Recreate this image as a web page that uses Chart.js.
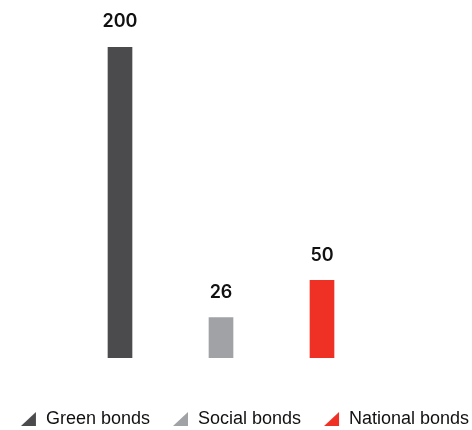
<!DOCTYPE html>
<html>
<head>
<meta charset="utf-8">
<script src="https://cdn.jsdelivr.net/npm/chart.js@4/dist/chart.umd.min.js"></script>
<style>
  html, body { margin: 0; padding: 0; background: #ffffff; overflow: hidden; }
  #wrap { width: 472px; height: 430px; }
</style>
</head>
<body>
<div id="wrap"><canvas id="c" width="472" height="430"></canvas></div>
<script>
// ---- data ----
const categories = ['Green bonds', 'Social bonds', 'National bonds'];
const seriesNames = ['Green bonds', 'Social bonds', 'National bonds'];
const values = [200, 26, 50];
const yMin = 0;
const yMax = 200;
const seriesColors = ['#4b4b4d', '#a1a2a6', '#ee3124'];

// triangle legend markers (right triangle, right angle at bottom-right)
function makeTriangle(color) {
  const cv = document.createElement('canvas');
  cv.width = 26; cv.height = 14;
  const g = cv.getContext('2d');
  g.fillStyle = color;
  g.beginPath();
  g.moveTo(10, 14);
  g.lineTo(25, 14);
  g.lineTo(25, 0);
  g.closePath();
  g.fill();
  return cv;
}
const triangles = seriesColors.map(makeTriangle);

const datasets = seriesNames.map((name, i) => ({
  label: name,
  data: categories.map((c, j) => (j === i ? values[i] : null)),
  backgroundColor: seriesColors[i],
  borderWidth: 0,
  barThickness: 24,
  grouped: false,
  pointStyle: triangles[i]
}));

const valueLabels = {
  id: 'valueLabels',
  afterDatasetsDraw(chart) {
    const ctx = chart.ctx;
    ctx.save();
    ctx.font = '600 18px Inter, "DejaVu Sans", sans-serif';
    ctx.fillStyle = '#111111';
    ctx.textAlign = 'center';
    ctx.textBaseline = 'middle';
    chart.data.datasets.forEach((ds, di) => {
      const meta = chart.getDatasetMeta(di);
      meta.data.forEach((el, k) => {
        const v = ds.data[k];
        if (v === null || v === undefined) return;
        ctx.fillText(String(v), el.x, el.y - 25);
      });
    });
    ctx.restore();
  }
};

new Chart(document.getElementById('c'), {
  type: 'bar',
  data: { labels: categories, datasets },
  options: {
    responsive: false,
    animation: false,
    layout: { padding: { top: 47, left: -4, right: -12, bottom: -8 } },
    scales: {
      x: {
        display: true,
        grid: { display: false },
        border: { display: false },
        ticks: { display: false },
        afterFit(s) { s.height = 39; }
      },
      y: {
        display: true,
        position: 'left',
        min: yMin,
        max: yMax,
        grid: { display: false },
        border: { display: false },
        ticks: { display: false },
        afterFit(s) { s.width = 73.5; }
      },
      y2: {
        display: true,
        position: 'right',
        grid: { display: false },
        border: { display: false },
        ticks: { display: false },
        afterFit(s) { s.width = 111.5; }
      }
    },
    plugins: {
      tooltip: { enabled: false },
      legend: {
        position: 'bottom',
        align: 'center',
        labels: {
          usePointStyle: true,
          pointStyleWidth: 26,
          boxHeight: 14,
          padding: 13,
          color: '#111111',
          font: { family: '"Liberation Sans", Arial, sans-serif', size: 18 },
          generateLabels(chart) {
            return Chart.defaults.plugins.legend.labels.generateLabels(chart)
              .map((l, i) => Object.assign(l, { pointStyle: triangles[i] }));
          }
        }
      }
    }
  },
  plugins: [valueLabels]
});
</script>
</body>
</html>
